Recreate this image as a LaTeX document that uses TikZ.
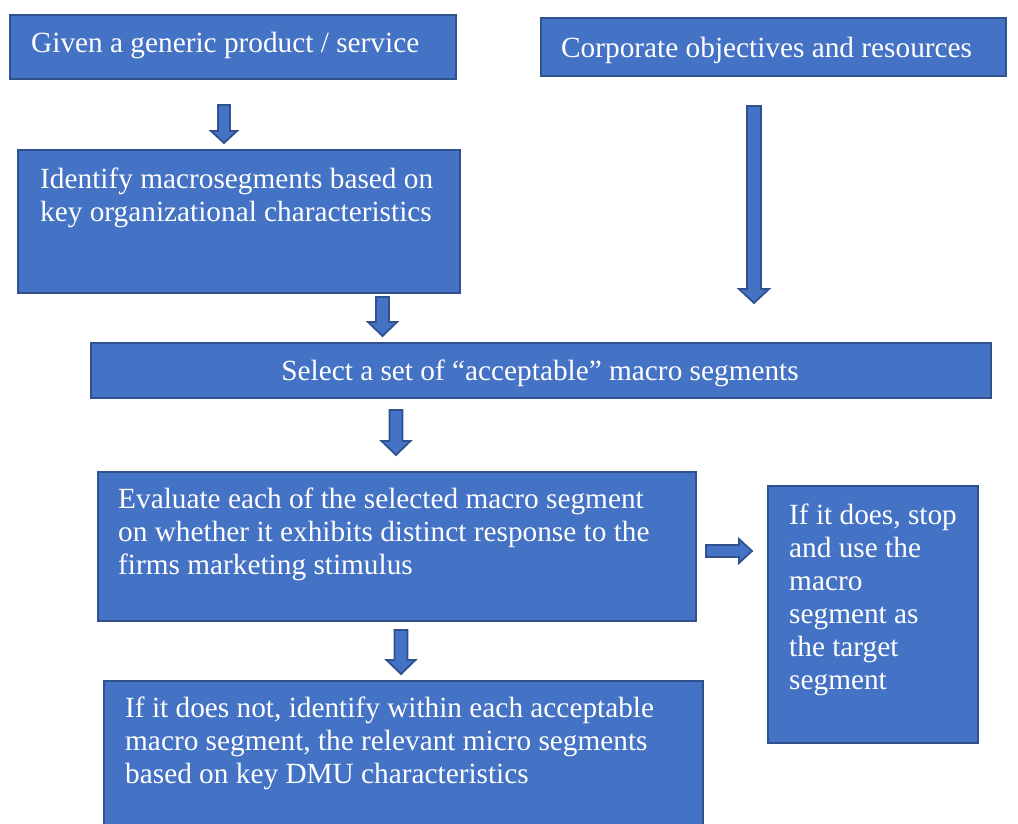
\documentclass[tikz,border=0pt]{standalone}
\usepackage{fontspec}
\setmainfont{Liberation Serif}
\definecolor{boxfill}{HTML}{4472C4}
\definecolor{boxedge}{HTML}{2F528F}
\tikzset{
  stepbox/.style={draw=boxedge, fill=boxfill, line width=2pt, rectangle, inner sep=0pt, anchor=north west},
  steptext/.style={text=white, inner sep=0pt, anchor=base west, align=left, font=\fontsize{29.3}{33}\selectfont},
  blockarrow/.style={draw=boxedge, fill=boxfill, line width=1.8pt, line join=miter}
}
% downward block arrow: x centre, top y, tip y, shaft half width, head half width, head length
\newcommand{\downblock}[6]{%
  \draw[blockarrow] (#1-#4,#2) -- (#1+#4,#2) -- (#1+#4,#3-#6) -- (#1+#5,#3-#6) -- (#1,#3)
    -- (#1-#5,#3-#6) -- (#1-#4,#3-#6) -- cycle;}
\begin{document}
\begin{tikzpicture}[x=1pt,y=-1pt]
\useasboundingbox (0,0) rectangle (1018,823);

% boxes
\node[stepbox, minimum width=446, minimum height=64] (given) at (9,14) {};
\node[stepbox, minimum width=465, minimum height=58] (corp) at (540,17) {};
\node[stepbox, minimum width=442, minimum height=143] (macro) at (17,149) {};
\node[stepbox, minimum width=900, minimum height=55] (select) at (90,342) {};
\node[stepbox, minimum width=598, minimum height=149] (eval) at (97,471) {};
\node[stepbox, minimum width=210, minimum height=257] (stop) at (767,485) {};
\node[stepbox, minimum width=599, minimum height=160] (micro) at (103,680) {};

% texts (multi-line nodes sit on the baseline of their last line)
\node[steptext] (givent) at (31,52) {Given a generic product / service};
\node[steptext] (corpt) at (561,57) {Corporate objectives and resources};
\node[steptext] (macrot) at (40,221) {Identify macrosegments based on\\key organizational characteristics};
\node[steptext, anchor=base] (selectt) at (540,380) {Select a set of “acceptable” macro segments};
\node[steptext] (evalt) at (118,574) {Evaluate each of the selected macro segment\\on whether it exhibits distinct response to the\\firms marketing stimulus};
\node[steptext] (stopt) at (789,689) {If it does, stop\\and use the\\macro\\segment as\\the target\\segment};
\node[steptext] (microt) at (125,783) {If it does not, identify within each acceptable\\macro segment, the relevant micro segments\\based on key DMU characteristics};

% block arrows
\downblock{224}{105}{143}{6}{13}{12}
\downblock{754}{106}{303}{7}{15}{14}
\downblock{382.5}{297}{336}{6.5}{14.5}{14}
\downblock{396}{410}{455}{6.5}{14.5}{14}
\downblock{401}{630}{674}{6.5}{14.5}{14}
\draw[blockarrow] (706,545) -- (739,545) -- (739,539) -- (752,551) -- (739,563) -- (739,557) -- (706,557) -- cycle;
\end{tikzpicture}
\end{document}
